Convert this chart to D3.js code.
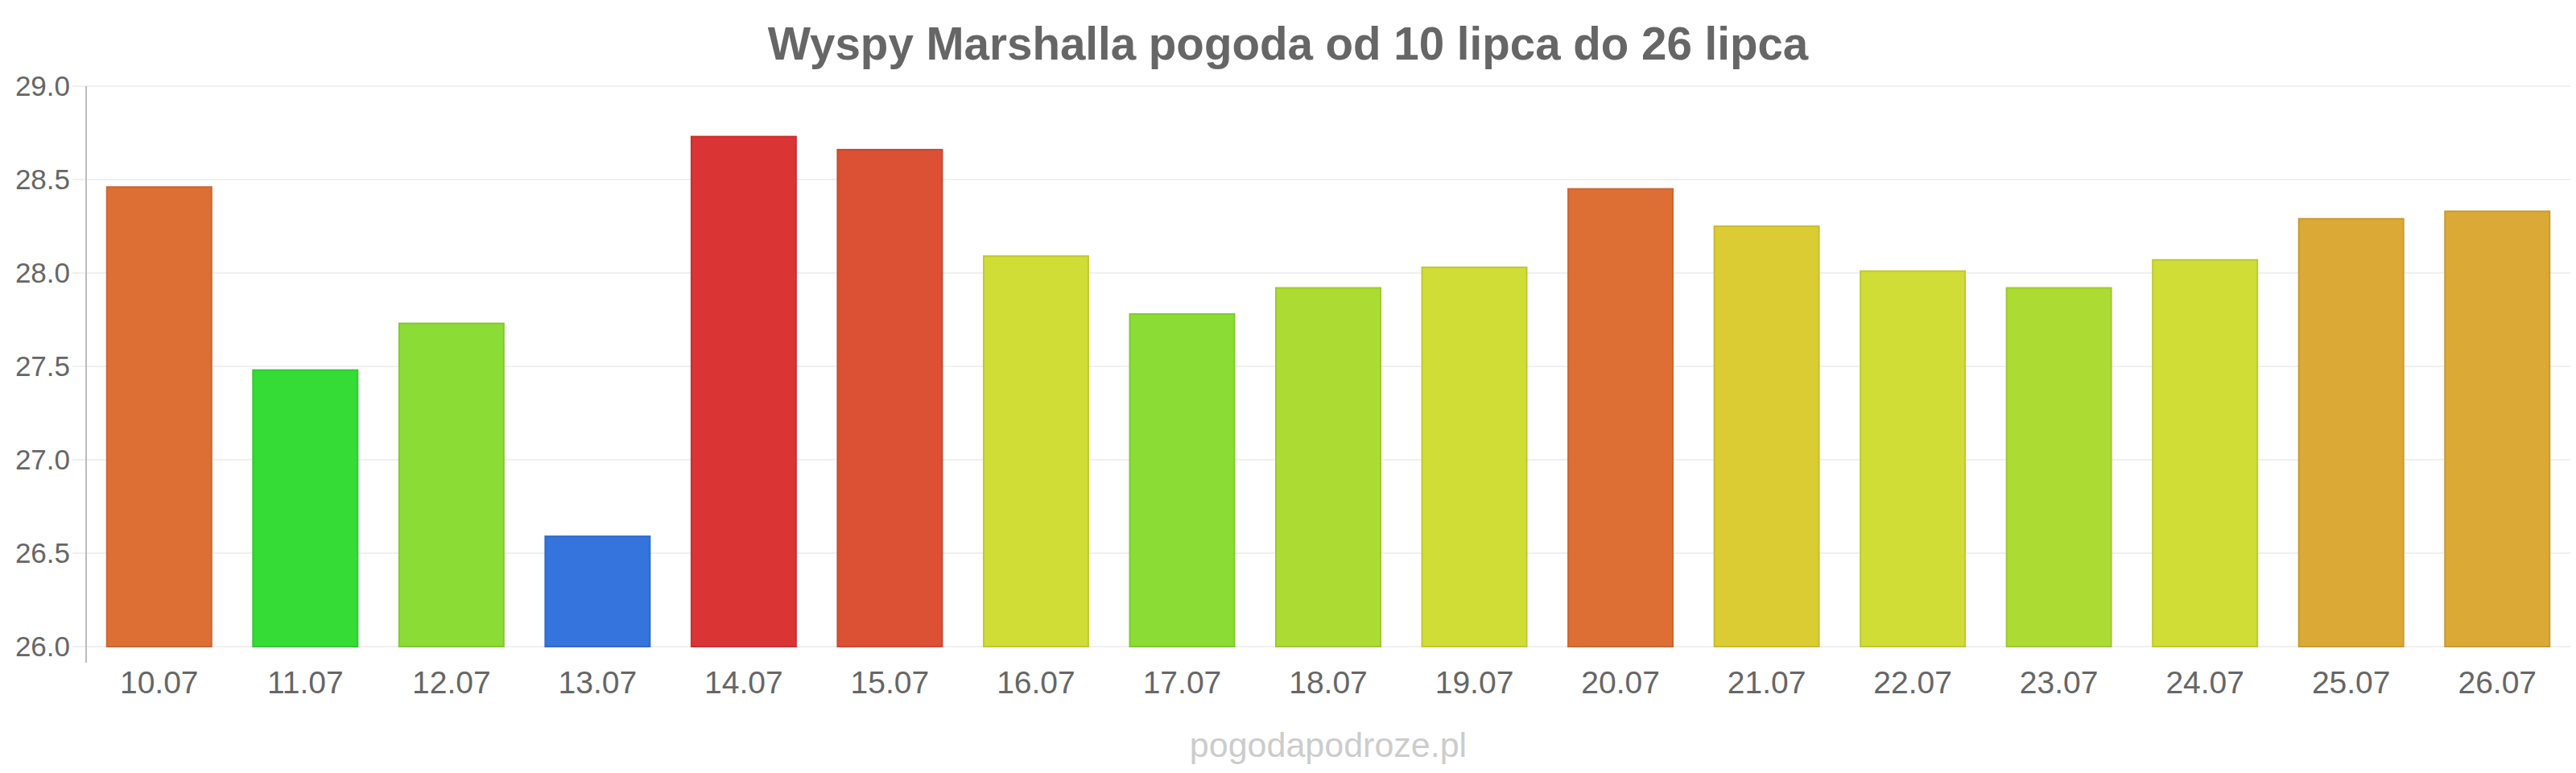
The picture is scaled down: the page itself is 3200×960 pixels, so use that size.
<!DOCTYPE html>
<html>
<head>
<meta charset="utf-8">
<script src="https://cdn.jsdelivr.net/npm/d3@7"></script>
<style>
    html, body { margin: 0; padding: 0; background: #fff; }
    svg { display: block; font-family: "Liberation Sans", Arial, sans-serif; }
</style>
</head>
<body>
<div id="chart"></div>
<script>
// dates shown under the bars
const days = ['10.07', '11.07', '12.07', '13.07', '14.07', '15.07', '16.07', '17.07', '18.07',
              '19.07', '20.07', '21.07', '22.07', '23.07', '24.07', '25.07', '26.07'];
// temperature per day
const temps = [28.46, 27.48, 27.73, 26.59, 28.73, 28.66, 28.09, 27.78, 27.92,
               28.03, 28.45, 28.25, 28.01, 27.92, 28.07, 28.29, 28.33];
// bar colour per day
const colors = ['#dd6f35', '#36dc36', '#8bdc35', '#3474dc', '#db3434', '#dc5034', '#cfdd36', '#8bdc34', '#acdc33',
                '#cfdd36', '#dd6f35', '#dccc34', '#cfdd36', '#acdc33', '#cfdd36', '#dba935', '#dba935'];
const yTicks = [26.0, 26.5, 27.0, 27.5, 28.0, 28.5, 29.0];

const title = 'Wyspy Marshalla pogoda od 10 lipca do 26 lipca';
const credit = 'pogodapodroze.pl';

const W = 3200, H = 960;
const margin = { top: 107, right: 7, bottom: 157, left: 107 };

const svg = d3.select('#chart')
    .append('svg')
    .attr('width', W)
    .attr('height', H);

const x = d3.scaleBand()
    .domain(days)
    .range([margin.left, W - margin.right])
    .paddingInner(0.284)
    .paddingOuter(0.142);

const y = d3.scaleLinear()
    .domain([26, 29])
    .range([H - margin.bottom, margin.top]);

// grid lines
svg.append('g')
    .selectAll('line')
    .data(yTicks)
    .enter()
    .append('line')
    .attr('x1', margin.left - 17)
    .attr('x2', W - margin.right)
    .attr('y1', d => y(d))
    .attr('y2', d => y(d))
    .attr('stroke', '#f0f0f0')
    .attr('stroke-width', 2);

// y axis
const yAxis = svg.append('g')
    .attr('transform', `translate(${margin.left},0)`)
    .call(d3.axisLeft(y).tickValues(yTicks).tickFormat(d3.format('.1f')).tickSize(0).tickPadding(20));
yAxis.select('.domain').remove();
yAxis.selectAll('text')
    .attr('fill', '#666')
    .attr('font-size', 35)
    .attr('font-family', '"Liberation Sans", Arial, sans-serif');

svg.append('line')
    .attr('x1', margin.left)
    .attr('x2', margin.left)
    .attr('y1', margin.top)
    .attr('y2', H - margin.bottom + 20)
    .attr('stroke', '#bbb')
    .attr('stroke-width', 2);

// bars
svg.append('g')
    .selectAll('rect')
    .data(days)
    .enter()
    .append('rect')
    .attr('x', d => x(d))
    .attr('width', x.bandwidth())
    .attr('y', (d, i) => y(temps[i]))
    .attr('height', (d, i) => y(26) - y(temps[i]))
    .attr('fill', (d, i) => colors[i])
    .attr('stroke', (d, i) => d3.color(colors[i]).darker(0.25))
    .attr('stroke-width', 2);

// x axis labels
const xAxis = svg.append('g')
    .attr('transform', `translate(0,${H - margin.bottom})`)
    .call(d3.axisBottom(x).tickSize(0).tickPadding(30));
xAxis.select('.domain').remove();
xAxis.selectAll('text')
    .attr('fill', '#666')
    .attr('font-size', 39)
    .attr('font-family', '"Liberation Sans", Arial, sans-serif');

// title
svg.append('text')
    .attr('x', W / 2)
    .attr('y', 74)
    .attr('text-anchor', 'middle')
    .attr('font-size', 56.5)
    .attr('font-weight', 'bold')
    .attr('fill', '#666')
    .text(title);

// credit
svg.append('text')
    .attr('x', (margin.left + W - margin.right) / 2)
    .attr('y', 940)
    .attr('text-anchor', 'middle')
    .attr('font-size', 43)
    .attr('fill', '#ccc')
    .text(credit);
</script>
</body>
</html>
